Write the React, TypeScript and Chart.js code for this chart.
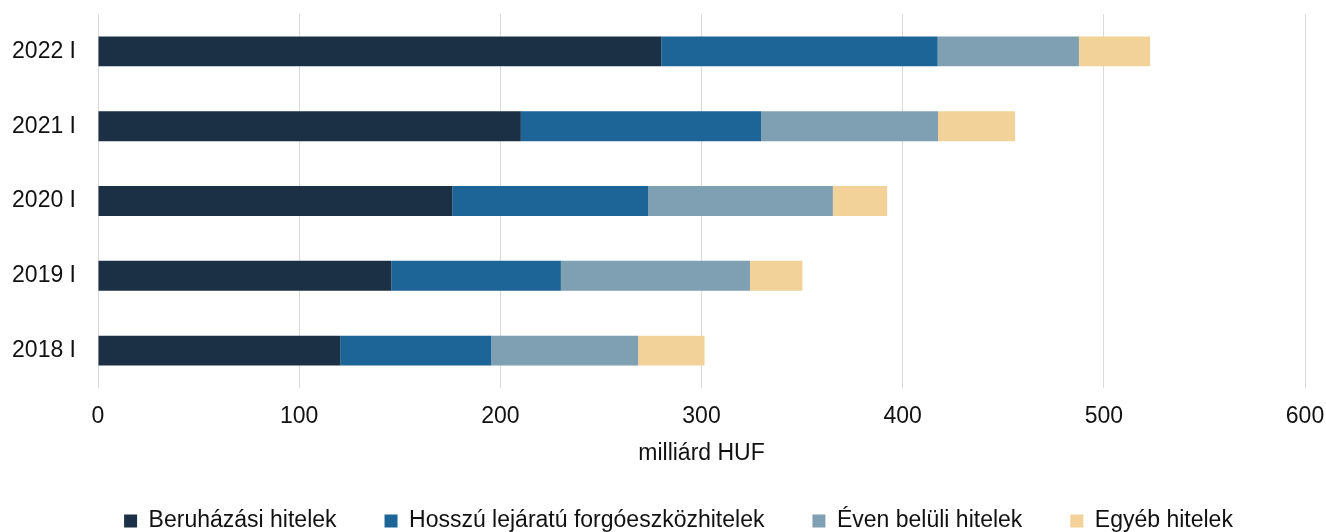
import React, { useEffect, useRef } from "react";
import { Chart, registerables } from "chart.js";

Chart.register(...registerables);

const categories = ["2018 I", "2019 I", "2020 I", "2021 I", "2022 I"];
const beruhazasi = [120.4, 145.8, 176.1, 210.2, 280.0];
const hosszu = [75.1, 84.3, 97.3, 119.4, 137.4];
const evenBeluli = [73.0, 94.0, 91.9, 88.0, 70.2];
const egyeb = [33.0, 26.1, 27.0, 38.3, 35.4];
const seriesNames = [
  "Beruházási hitelek",
  "Hosszú lejáratú forgóeszközhitelek",
  "Éven belüli hitelek",
  "Egyéb hitelek",
];
const seriesColors = ["#1b3045", "#1d6596", "#7fa0b3", "#f2d299"];
const xTicks = [0, 100, 200, 300, 400, 500, 600];
const xTitle = "milliárd HUF";

const FONT = "'Liberation Sans', Arial, sans-serif";
const TEXT = "#111111";
const LEGEND_SHIFT = 26;

const legendShift = {
  id: "legendShift",
  afterLayout(chart: any) {
    const lg = chart.legend;
    if (lg) {
      lg.left += LEGEND_SHIFT;
      lg.right += LEGEND_SHIFT;
    }
  },
};

export default function App() {
  const ref = useRef<HTMLCanvasElement | null>(null);

  useEffect(() => {
    if (!ref.current) return;
    const values = [beruhazasi, hosszu, evenBeluli, egyeb];
    const chart = new Chart(ref.current, {
      type: "bar",
      data: {
        labels: categories,
        datasets: values.map((d, i) => ({
          label: seriesNames[i],
          data: d,
          backgroundColor: seriesColors[i],
          borderWidth: 0,
          categoryPercentage: 1,
          barPercentage: 0.4,
        })),
      },
      plugins: [legendShift],
      options: {
        indexAxis: "y",
        responsive: false,
        animation: false,
        layout: { padding: { top: 14, right: 21, left: 0, bottom: -10.5 } },
        plugins: {
          tooltip: { enabled: false },
          legend: {
            position: "bottom",
            align: "center",
            labels: {
              boxWidth: 13,
              boxHeight: 13,
              padding: 48,
              color: TEXT,
              font: { family: FONT, size: 23 },
            },
          },
        },
        scales: {
          x: {
            stacked: true,
            min: 0,
            max: 600,
            afterBuildTicks: (scale: any) => {
              scale.ticks = xTicks.map((v) => ({ value: v }));
            },
            afterFit: (scale: any) => {
              scale.paddingLeft = 0;
              scale.paddingRight = 0;
            },
            grid: { color: "#d9d9d9", lineWidth: 1, drawTicks: false },
            border: { display: false },
            ticks: {
              padding: 15,
              color: TEXT,
              font: { family: FONT, size: 23, lineHeight: 1.2 },
            },
            title: {
              display: true,
              text: xTitle,
              color: TEXT,
              font: { family: FONT, size: 23, lineHeight: 1 },
              padding: { top: -3.1, bottom: -4 },
            },
          },
          y: {
            stacked: true,
            reverse: true,
            grid: { display: false, drawTicks: false },
            border: { display: false },
            ticks: {
              padding: 22,
              color: TEXT,
              font: { family: FONT, size: 23 },
            },
            afterFit: (scale: any) => {
              scale.width = 98;
              scale.paddingTop = 0;
              scale.paddingBottom = 0;
            },
          },
        },
      },
    });
    return () => chart.destroy();
  }, []);

  return (
    <div style={{ position: "absolute", left: 0, top: 0, width: 1326, height: 532, background: "#fff" }}>
      <canvas ref={ref} width={1326} height={532} style={{ display: "block" }} />
    </div>
  );
}
